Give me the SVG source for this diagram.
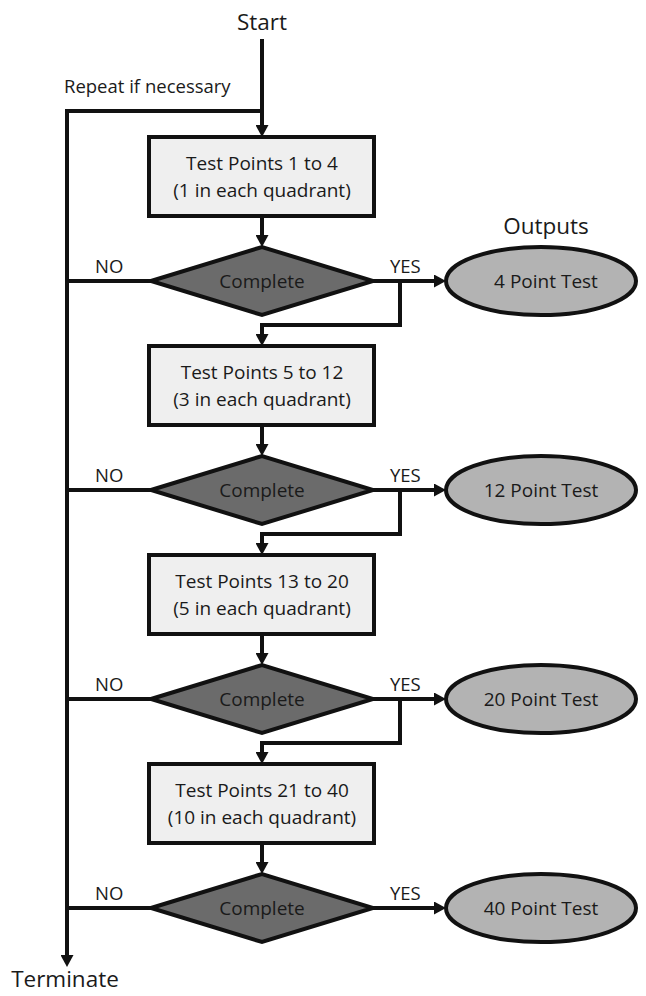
<svg xmlns="http://www.w3.org/2000/svg" width="646" height="996" viewBox="0 0 646 996">
<style>
text{font-family:"Open Sans","Noto Sans","Liberation Sans",sans-serif;fill:#1a1a1a;text-anchor:middle}
.t{font-size:19px}
.big{font-size:22.5px}
.lbl{font-size:18.5px;text-anchor:start}
.box{fill:#efefef;stroke:#111;stroke-width:4}
.dia{fill:#6b6b6b;stroke:#111;stroke-width:4;stroke-linejoin:miter}
.ell{fill:#b3b3b3;stroke:#111;stroke-width:4}
.ln{fill:none;stroke:#111;stroke-width:4}
.ar{fill:none;stroke:#111;stroke-width:4;marker-end:url(#ah)}
</style>
<defs>
<marker id="ah" markerUnits="userSpaceOnUse" markerWidth="12" markerHeight="13" viewBox="0 0 12 13" refX="0" refY="6.5" orient="auto">
<path d="M0,0 L12,6.5 L0,13 z" fill="#111"/>
</marker>
</defs>
<g id="labels">
<text class="big" x="262" y="30">Start</text>
<text class="lbl" x="64" y="93">Repeat if necessary</text>
<text class="big" x="546" y="234">Outputs</text>
<text class="big" x="65" y="987">Terminate</text>
<text class="lbl" x="95" y="273">NO</text>
<text class="lbl" x="390" y="273">YES</text>
<text class="lbl" x="95" y="482">NO</text>
<text class="lbl" x="390" y="482">YES</text>
<text class="lbl" x="95" y="691">NO</text>
<text class="lbl" x="390" y="691">YES</text>
<text class="lbl" x="95" y="900">NO</text>
<text class="lbl" x="390" y="900">YES</text>
</g>
<g id="connectors">
<path class="ar" d="M262,39 V125"/>
<path class="ln" d="M262,111 H67"/>
<path class="ar" d="M67,109 V955"/>
<path class="ar" d="M262,216 V235"/>
<path class="ln" d="M151,281 H67"/>
<path class="ar" d="M373,281 H434"/>
<path class="ln" d="M400,281 V325 H262"/>
<path class="ar" d="M262,323 V334"/>
<path class="ar" d="M262,425 V444"/>
<path class="ln" d="M151,490 H67"/>
<path class="ar" d="M373,490 H434"/>
<path class="ln" d="M400,490 V534 H262"/>
<path class="ar" d="M262,532 V543"/>
<path class="ar" d="M262,634 V653"/>
<path class="ln" d="M151,699 H67"/>
<path class="ar" d="M373,699 H434"/>
<path class="ln" d="M400,699 V743 H262"/>
<path class="ar" d="M262,741 V752"/>
<path class="ar" d="M262,843 V862"/>
<path class="ln" d="M151,908 H67"/>
<path class="ar" d="M373,908 H434"/>
</g>
<g id="box1"><rect class="box" x="149" y="137" width="225" height="79"/><text class="t" x="262" y="170">Test Points 1 to 4</text><text class="t" x="262" y="197">(1 in each quadrant)</text></g>
<g id="dec1"><polygon class="dia" points="151,281 262,247 373,281 262,315"/><text class="t" x="262" y="288">Complete</text></g>
<g id="out1"><ellipse class="ell" cx="541" cy="281" rx="95" ry="34"/><text class="t" x="546" y="288">4 Point Test</text></g>
<g id="box2"><rect class="box" x="149" y="346" width="225" height="79"/><text class="t" x="262" y="379">Test Points 5 to 12</text><text class="t" x="262" y="406">(3 in each quadrant)</text></g>
<g id="dec2"><polygon class="dia" points="151,490 262,456 373,490 262,524"/><text class="t" x="262" y="497">Complete</text></g>
<g id="out2"><ellipse class="ell" cx="541" cy="490" rx="95" ry="34"/><text class="t" x="541" y="497">12 Point Test</text></g>
<g id="box3"><rect class="box" x="149" y="555" width="225" height="79"/><text class="t" x="262" y="588">Test Points 13 to 20</text><text class="t" x="262" y="615">(5 in each quadrant)</text></g>
<g id="dec3"><polygon class="dia" points="151,699 262,665 373,699 262,733"/><text class="t" x="262" y="706">Complete</text></g>
<g id="out3"><ellipse class="ell" cx="541" cy="699" rx="95" ry="34"/><text class="t" x="541" y="706">20 Point Test</text></g>
<g id="box4"><rect class="box" x="149" y="764" width="225" height="79"/><text class="t" x="262" y="797">Test Points 21 to 40</text><text class="t" x="262" y="824">(10 in each quadrant)</text></g>
<g id="dec4"><polygon class="dia" points="151,908 262,874 373,908 262,942"/><text class="t" x="262" y="915">Complete</text></g>
<g id="out4"><ellipse class="ell" cx="541" cy="908" rx="95" ry="34"/><text class="t" x="541" y="915">40 Point Test</text></g>
</svg>
